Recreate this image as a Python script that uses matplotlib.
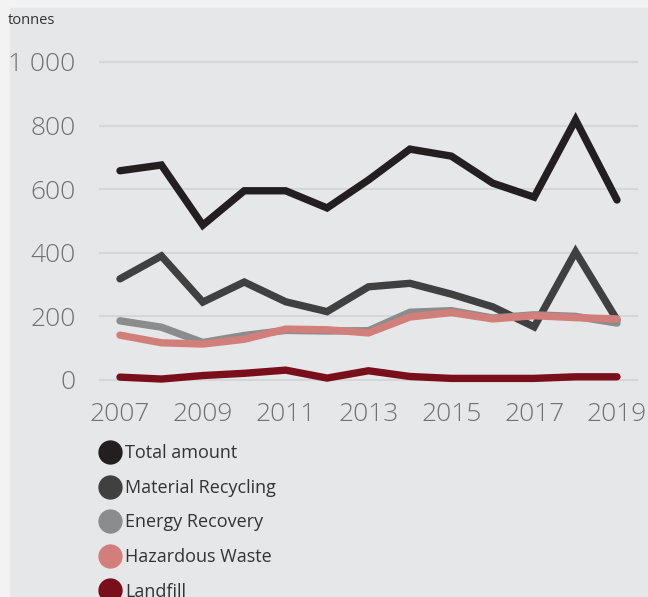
import matplotlib.pyplot as plt
from matplotlib.lines import Line2D
from matplotlib.patches import Rectangle

years = [2007, 2008, 2009, 2010, 2011, 2012, 2013, 2014, 2015, 2016, 2017, 2018, 2019]
total = [658, 676, 487, 595, 595, 541, 629, 726, 704, 619, 575, 818, 566]
material = [318, 390, 245, 308, 246, 215, 293, 304, 270, 230, 167, 403, 189]
energy = [186, 166, 118, 140, 156, 154, 155, 213, 218, 195, 205, 200, 179]
hazardous = [141, 117, 113, 128, 160, 158, 148, 198, 212, 192, 202, 196, 192]
landfill = [9, 3, 14, 21, 31, 6, 29, 11, 5, 5, 5, 10, 10]

series = [
    ("Total amount", total, "#231f20"),
    ("Material Recycling", material, "#404041"),
    ("Energy Recovery", energy, "#8b8c8e"),
    ("Hazardous Waste", hazardous, "#d27f7b"),
    ("Landfill", landfill, "#7a0f1c"),
]
xticks = [2007, 2009, 2011, 2013, 2015, 2017, 2019]
yticks = [0, 200, 400, 600, 800, 1000]
ytick_labels = ["0", "200", "400", "600", "800", "1 000"]

plt.rcParams['font.family'] = ['Open Sans', 'DejaVu Sans']

fig = plt.figure(figsize=(6.48, 5.97), dpi=100, facecolor="#f3f3f3")
fig.patches.append(Rectangle((10 / 648, 0), 1, (597 - 8) / 597,
                             transform=fig.transFigure, color="#e6e7e8", zorder=-10))

ax = fig.add_axes([0.1532, 0.3422, 0.8309, 0.5806])
ax.set_facecolor("none")

for name, vals, col in series:
    ax.plot(years, vals, color=col, lw=5.3, solid_capstyle="round",
            solid_joinstyle="miter", label=name)

ax.set_xlim(2006.5, 2019.5)
ax.set_ylim(-40, 1050)
ax.set_xticks(xticks)
ax.set_xticklabels([str(x) for x in xticks])
ax.set_yticks(yticks)
ax.set_yticklabels(ytick_labels)
ax.tick_params(length=0, labelsize=19, labelcolor="#707174")
ax.tick_params(axis="y", pad=17)
ax.tick_params(axis="x", pad=7)
for lab in ax.get_xticklabels() + ax.get_yticklabels():
    lab.set_fontweight("light")
ax.grid(axis="y", color="#d5d6d8", lw=1.5)
ax.set_axisbelow(True)
for s in ax.spines.values():
    s.set_visible(False)

fig.text(8 / 648, 1 - 20 / 597, "tonnes", fontsize=10.5, color="#333333",
         va="center", ha="left")

handles = [Line2D([], [], marker="o", linestyle="", markersize=16.5,
                  markerfacecolor=c, markeredgecolor=c) for _, _, c in series]
fig.legend(handles, [n for n, _, _ in series], loc="upper left",
           bbox_to_anchor=(92 / 648, 1 - 437 / 597), frameon=False,
           fontsize=13, labelcolor="#333333", handletextpad=0.25,
           labelspacing=0.92, handlelength=1.2, borderaxespad=0)

fig.savefig("out.png", dpi=100, facecolor=fig.get_facecolor())
